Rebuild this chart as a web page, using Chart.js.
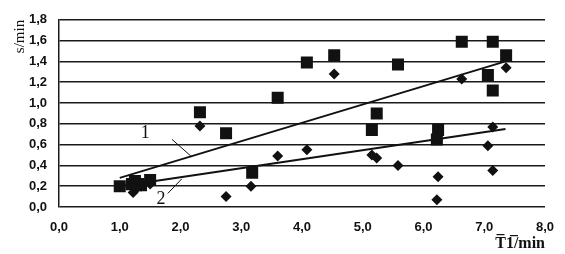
<!DOCTYPE html>
<html>
<head>
<meta charset="utf-8">
<script src="https://cdn.jsdelivr.net/npm/chart.js@4"></script>
<style>
  html, body { margin: 0; padding: 0; background: #fff; }
  #wrap { width: 565px; height: 254px; }
</style>
</head>
<body>
<div id="wrap"><canvas id="c"></canvas></div>
<script>
/* measured points, series 1 (squares) */
const sqX = [1.0, 1.2, 1.25, 1.3, 1.35, 1.5, 2.32, 2.75, 3.18, 3.6, 4.08, 4.53, 5.15, 5.23, 5.58, 6.22, 6.24, 6.63, 7.06, 7.14, 7.14, 7.36];
const sqY = [0.20, 0.22, 0.25, 0.22, 0.21, 0.26, 0.91, 0.71, 0.33, 1.05, 1.39, 1.46, 0.74, 0.90, 1.37, 0.65, 0.74, 1.59, 1.27, 1.59, 1.12, 1.46];

/* measured points, series 2 (diamonds) */
const diX = [1.2, 1.22, 1.28, 1.35, 1.5, 2.32, 2.75, 3.16, 3.6, 4.08, 4.53, 5.15, 5.23, 5.58, 6.22, 6.24, 6.63, 7.06, 7.14, 7.14, 7.36];
const diY = [0.20, 0.14, 0.18, 0.20, 0.22, 0.78, 0.10, 0.20, 0.49, 0.55, 1.28, 0.50, 0.47, 0.40, 0.07, 0.29, 1.23, 0.59, 0.77, 0.35, 1.34];

/* trend lines */
const line1X = [1.0, 7.35], line1Y = [0.28, 1.40];
const line2X = [1.0, 7.35], line2Y = [0.20, 0.75];

/* callout leaders and labels */
const lead1X = [1.86, 2.19], lead1Y = [0.65, 0.48];
const lead2X = [1.79, 2.02], lead2Y = [0.13, 0.27];
const calloutText = ['1', '2'];
const calloutX = [1.42, 1.68], calloutY = [0.71, 0.07];

const xTicks = [0, 1, 2, 3, 4, 5, 6, 7, 8];
const yTicks = [0, 0.2, 0.4, 0.6, 0.8, 1.0, 1.2, 1.4, 1.6, 1.8];

const pts = (xs, ys) => xs.map((x, i) => ({ x, y: ys[i] }));
const fmt = v => Number(v).toFixed(1).replace('.', ',');
const ink = '#111';
const tickFont = { family: '"Liberation Sans", Arial, sans-serif', size: 13, weight: 'bold' };

const lineDs = (xs, ys, w) => ({
  type: 'line', data: pts(xs, ys), borderColor: ink, borderWidth: w,
  pointRadius: 0, fill: false, tension: 0
});

const callouts = {
  id: 'callouts',
  afterDatasetsDraw(chart) {
    const { ctx, scales: { x, y } } = chart;
    ctx.save();
    ctx.fillStyle = ink;
    ctx.font = '18px "Liberation Serif", serif';
    ctx.textAlign = 'center';
    ctx.textBaseline = 'middle';
    calloutText.forEach((t, i) => {
      ctx.fillText(t, x.getPixelForValue(calloutX[i]), y.getPixelForValue(calloutY[i]));
    });
    ctx.restore();
  }
};

new Chart(document.getElementById('c'), {
  type: 'scatter',
  data: {
    datasets: [
      { data: pts(sqX, sqY), pointStyle: 'rect', pointRadius: 8.5, backgroundColor: ink, borderColor: ink, borderWidth: 0 },
      { data: pts(diX, diY), pointStyle: 'rectRot', pointRadius: 5.5, backgroundColor: ink, borderColor: ink, borderWidth: 0 },
      lineDs(line1X, line1Y, 2),
      lineDs(line2X, line2Y, 2),
      lineDs(lead1X, lead1Y, 1),
      lineDs(lead2X, lead2Y, 1)
    ]
  },
  options: {
    responsive: true, maintainAspectRatio: false, animation: false,
    layout: { padding: { top: 16, right: 20, bottom: 0, left: 0 } },
    plugins: { legend: { display: false }, tooltip: { enabled: false } },
    scales: {
      x: {
        type: 'linear', min: 0, max: 8,
        afterFit: s => { s.height = 47; },
        afterBuildTicks: s => { s.ticks = xTicks.map(value => ({ value })); },
        grid: { display: false },
        border: { display: false },
        ticks: { callback: fmt, padding: 5, color: ink, font: tickFont },
        title: { display: true, text: 'T\u03051\u0305/min', align: 'end', color: ink,
          padding: { top: 0, bottom: 1 }, font: { family: '"Liberation Serif", serif', size: 16, weight: 'bold' } }
      },
      y: {
        min: 0, max: 1.8,
        afterFit: s => { s.width = 59; },
        afterBuildTicks: s => { s.ticks = yTicks.map(value => ({ value })); },
        grid: { color: '#1a1a1a', lineWidth: 1.5, drawTicks: false },
        border: { display: true, color: '#1a1a1a', width: 1.5 },
        ticks: { callback: fmt, padding: 12, color: ink, font: tickFont },
        title: { display: true, text: 's/min', align: 'end', color: ink,
          padding: { top: 11, bottom: 0 }, font: { family: '"Liberation Serif", serif', size: 15 } }
      }
    }
  },
  plugins: [callouts]
});
</script>
</body>
</html>
